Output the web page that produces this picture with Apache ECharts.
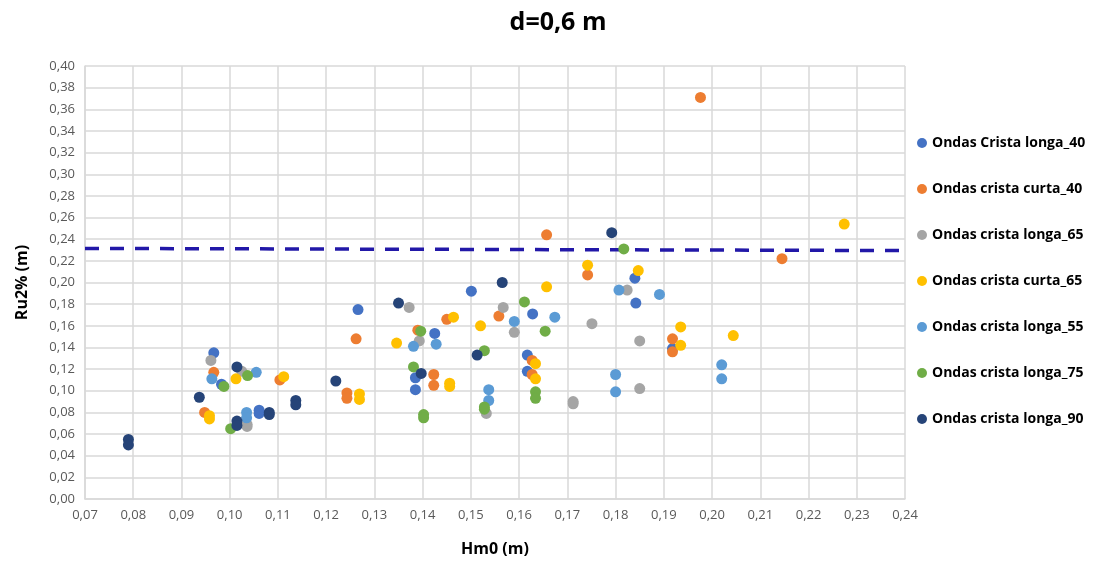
<!DOCTYPE html>
<html>
<head>
<meta charset="utf-8">
<script src="https://cdn.jsdelivr.net/npm/echarts@6/dist/echarts.min.js"></script>
<style>
  html, body { margin: 0; padding: 0; background: #fff; }
  #chart { width: 1116px; height: 574px; }
</style>
</head>
<body>
<div id="chart"></div>
<script>
// Run-up Ru2% against wave height Hm0, per wave condition: [Hm0, Ru2%]
const longa40 = [
  [0.0967, 0.135], [0.0983, 0.106], [0.1061, 0.082], [0.1061, 0.079], [0.1266, 0.175],
  [0.1385, 0.112], [0.1385, 0.101], [0.1425, 0.153], [0.1501, 0.192], [0.1617, 0.133],
  [0.1617, 0.118], [0.1628, 0.171], [0.1840, 0.204], [0.1842, 0.181], [0.1918, 0.139]
];
const curta40 = [
  [0.0948, 0.080], [0.0967, 0.117], [0.1104, 0.110], [0.1243, 0.098], [0.1243, 0.093],
  [0.1262, 0.148], [0.1390, 0.156], [0.1423, 0.115], [0.1423, 0.105], [0.1450, 0.166],
  [0.1558, 0.169], [0.1627, 0.128], [0.1627, 0.115], [0.1657, 0.244], [0.1742, 0.207],
  [0.1918, 0.148], [0.1918, 0.136], [0.1976, 0.371], [0.2145, 0.222]
];
const longa65 = [
  [0.0961, 0.128], [0.1025, 0.118], [0.1036, 0.069], [0.1036, 0.067], [0.1372, 0.177],
  [0.1393, 0.146], [0.1532, 0.079], [0.1567, 0.177], [0.1590, 0.154], [0.1712, 0.090],
  [0.1712, 0.088], [0.1751, 0.162], [0.1824, 0.193], [0.1850, 0.146], [0.1850, 0.102]
];
const curta65 = [
  [0.0958, 0.077], [0.0958, 0.074], [0.1013, 0.111], [0.1112, 0.113], [0.1269, 0.097],
  [0.1269, 0.092], [0.1346, 0.144], [0.1456, 0.107], [0.1456, 0.104], [0.1464, 0.168],
  [0.1520, 0.160], [0.1634, 0.125], [0.1634, 0.111], [0.1657, 0.196], [0.1742, 0.216],
  [0.1847, 0.211], [0.1935, 0.159], [0.1935, 0.142], [0.2044, 0.151], [0.2274, 0.254]
];
const longa55 = [
  [0.0963, 0.111], [0.1035, 0.080], [0.1035, 0.075], [0.1055, 0.117], [0.1381, 0.141],
  [0.1428, 0.143], [0.1537, 0.101], [0.1537, 0.091], [0.1590, 0.164], [0.1674, 0.168],
  [0.1800, 0.115], [0.1800, 0.099], [0.1807, 0.193], [0.1891, 0.189], [0.2020, 0.124],
  [0.2020, 0.111]
];
const longa75 = [
  [0.0988, 0.104], [0.1002, 0.065], [0.1037, 0.114], [0.1381, 0.122], [0.1396, 0.155],
  [0.1402, 0.078], [0.1402, 0.075], [0.1528, 0.137], [0.1528, 0.085], [0.1528, 0.083],
  [0.1611, 0.182], [0.1634, 0.099], [0.1634, 0.093], [0.1654, 0.155], [0.1817, 0.231]
];
const longa90 = [
  [0.0790, 0.055], [0.0790, 0.050], [0.0937, 0.094], [0.1015, 0.122], [0.1015, 0.072],
  [0.1015, 0.068], [0.1082, 0.080], [0.1082, 0.078], [0.1137, 0.091], [0.1137, 0.087],
  [0.1220, 0.109], [0.1350, 0.181], [0.1397, 0.116], [0.1513, 0.133], [0.1565, 0.200],
  [0.1792, 0.246]
];
// Reference run-up level (dashed line)
const limitLine = [[0.07, 0.2315], [0.24, 0.2295]];

const seriesNames = [
  'Ondas Crista longa_40', 'Ondas crista curta_40', 'Ondas crista longa_65',
  'Ondas crista curta_65', 'Ondas crista longa_55', 'Ondas crista longa_75',
  'Ondas crista longa_90'
];
const seriesData = [longa40, curta40, longa65, curta65, longa55, longa75, longa90];
const seriesColors = ['#4472C4', '#ED7D31', '#A5A5A5', '#FFC000', '#5B9BD5', '#70AD47', '#264478'];

const fmt = v => v.toFixed(2).replace('.', ',');
const FONT = '"Open Sans", "Liberation Sans", sans-serif';

const chart = echarts.init(document.getElementById('chart'), null, { renderer: 'canvas' });

const scatterSeries = seriesNames.map((name, i) => ({
  name,
  type: 'scatter',
  data: seriesData[i],
  symbol: 'circle',
  symbolSize: 11,
  itemStyle: { color: seriesColors[i], opacity: 1 },
  z: 3
}));

chart.setOption({
  animation: false,
  backgroundColor: '#ffffff',
  title: {
    text: 'd=0,6 m',
    left: 'center',
    top: 5,
    textStyle: { fontFamily: FONT, fontSize: 25, fontWeight: 'bold', color: '#000' }
  },
  legend: {
    data: seriesNames.map((n, i) => ({ name: n, icon: 'circle', itemStyle: { color: seriesColors[i] } })),
    orient: 'vertical',
    left: 912,
    top: 131,
    itemWidth: 10,
    itemHeight: 10,
    itemGap: 32,
    textStyle: { fontFamily: FONT, fontSize: 14, fontWeight: 'bold', color: '#000' }
  },
  grid: { left: 85, top: 66, width: 820, height: 433, containLabel: false },
  xAxis: {
    type: 'value',
    min: 0.07,
    max: 0.24,
    interval: 0.01,
    name: 'Hm0 (m)',
    nameLocation: 'middle',
    nameGap: 42,
    nameTextStyle: { fontFamily: FONT, fontSize: 16, fontWeight: 'bold', color: '#000' },
    axisLine: { show: true, lineStyle: { color: '#d9d9d9', width: 1.5 } },
    axisTick: { show: false },
    axisLabel: { formatter: fmt, fontFamily: FONT, fontSize: 13, color: '#595959', margin: 10 },
    splitLine: { show: true, lineStyle: { color: '#d9d9d9', width: 1.5 } }
  },
  yAxis: {
    type: 'value',
    min: 0,
    max: 0.40,
    interval: 0.02,
    name: 'Ru2% (m)',
    nameLocation: 'middle',
    nameGap: 55,
    nameRotate: 90,
    nameTextStyle: { fontFamily: FONT, fontSize: 16, fontWeight: 'bold', color: '#000' },
    axisLine: { show: true, lineStyle: { color: '#d9d9d9', width: 1.5 } },
    axisTick: { show: false },
    axisLabel: { formatter: fmt, fontFamily: FONT, fontSize: 13, color: '#595959', margin: 10 },
    splitLine: { show: true, lineStyle: { color: '#d9d9d9', width: 1.5 } }
  },
  series: [
    ...scatterSeries,
    {
      name: 'limite',
      type: 'line',
      data: limitLine,
      symbol: 'none',
      lineStyle: { color: '#2218A8', width: 3.5, type: [14, 11] },
      z: 2,
      silent: true
    }
  ]
});
</script>
</body>
</html>
